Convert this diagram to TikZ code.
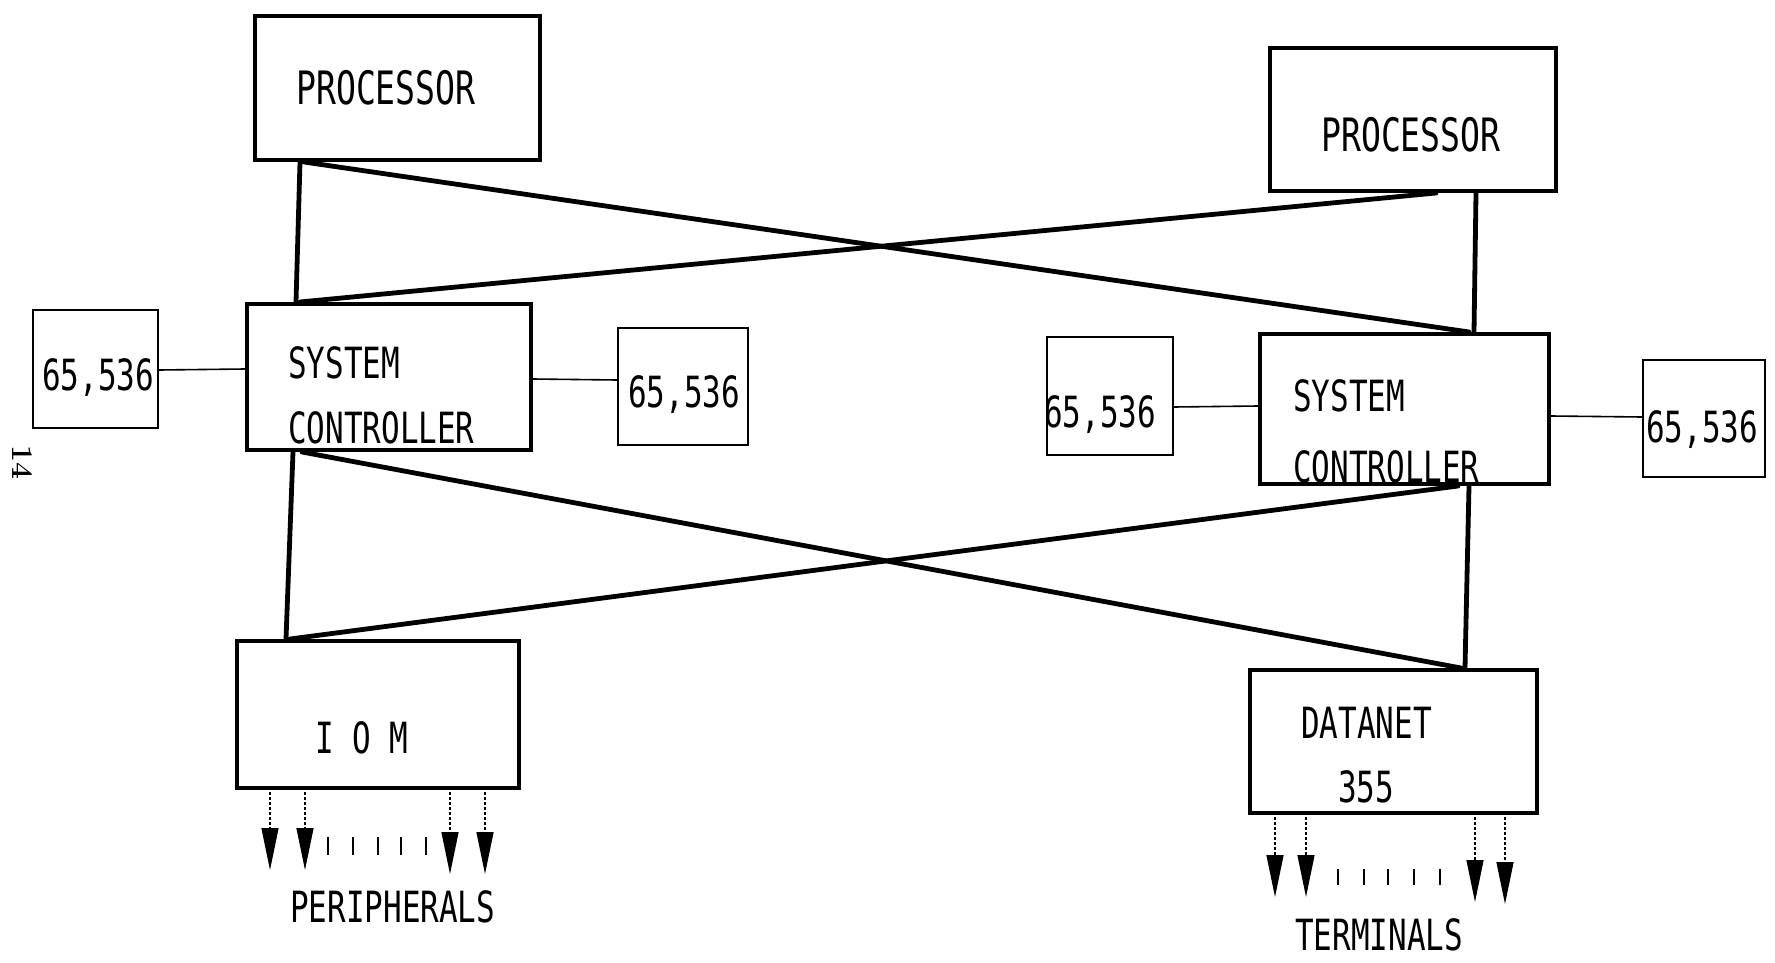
\documentclass[tikz,border=0pt]{standalone}
\usepackage{fontspec}
\usetikzlibrary{arrows.meta,calc}
\newfontfamily\lettering{DejaVu Sans Mono}[FakeStretch=0.72]
\begin{document}
\begin{tikzpicture}[x=1pt,y=-1pt,
  bigbox/.style={draw=black,line width=4pt,rectangle,inner sep=0pt,minimum width=#1},
  membox/.style={draw=black,line width=2pt,rectangle,inner sep=0pt},
  txt/.style={anchor=base west,inner sep=0pt,font=\lettering\fontsize{43}{48}\selectfont},
  bigtxt/.style={anchor=base west,inner sep=0pt,font=\lettering\fontsize{46}{50}\selectfont},
  thick link/.style={line width=4.8pt,line cap=round},
  thin link/.style={line width=1.6pt},
  outarrow/.style={line width=1.3pt,densely dashed,-{Triangle[width=17pt,length=42pt]}},
  tick/.style={line width=2.8pt}]
\useasboundingbox (0,0) rectangle (1775,963);
\fill[white] (0,0) rectangle (1775,963);
% boxes
\node[bigbox=285pt,minimum height=144pt] (p1) at (397.5,88) {};
\node[bigbox=286pt,minimum height=143pt] (p2) at (1413,119.5) {};
\node[bigbox=284pt,minimum height=146pt] (sc1) at (389,377) {};
\node[bigbox=289pt,minimum height=150pt] (sc2) at (1404.5,409) {};
\node[bigbox=282pt,minimum height=147pt] (iom) at (378,714.5) {};
\node[bigbox=287pt,minimum height=143pt] (dn) at (1393.5,741.5) {};
\node[membox,minimum width=125pt,minimum height=118pt] (m1) at (95.5,369) {};
\node[membox,minimum width=130pt,minimum height=117pt] (m2) at (683,386.5) {};
\node[membox,minimum width=126pt,minimum height=118pt] (m3) at (1110,396) {};
\node[membox,minimum width=122pt,minimum height=117pt] (m4) at (1704,418.5) {};
% texts
\node[bigtxt] (t1) at (296,105) {PROCESSOR};
\node[bigtxt] (t2) at (1321,152) {PROCESSOR};
\node[txt] (t3) at (288,378) {SYSTEM};
\node[txt] (t4) at (288,443) {CONTROLLER};
\node[txt] (t5) at (1293,411) {SYSTEM};
\node[txt] (t6) at (1293,482) {CONTROLLER};
\node[txt] (t7) at (315,753) {I O M};
\node[txt] (t8) at (1301,738) {DATANET};
\node[txt] (t9) at (1338,802) {355};
\node[txt] (t10) at (42,390) {65,536};
\node[txt] (t11) at (628,407) {65,536};
\node[txt] (t12) at (1044,427) {65,536};
\node[txt] (t13) at (1646,442) {65,536};
\node[txt] (t14) at (290,922) {PERIPHERALS};
\node[txt] (t15) at (1295,950) {TERMINALS};
\node[rotate=-90,inner sep=0pt,font=\bfseries\fontsize{30}{32}\selectfont] (pg) at (22,462) {14};
% thick links
\draw[thick link] ($(p1.south west)+(47,0)$) -- ($(sc1.north west)+(51,0)$);
\draw[thick link] ($(p1.south west)+(51,0)$) -- ($(sc2.north west)+(211,0)$);
\draw[thick link] ($(p2.south west)+(168,0)$) -- ($(sc1.north west)+(55,0)$);
\draw[thick link] ($(p2.south west)+(208,0)$) -- ($(sc2.north west)+(216,0)$);
\draw[thick link] ($(sc1.south west)+(48,0)$) -- ($(iom.north west)+(51,0)$);
\draw[thick link] ($(sc1.south west)+(57,0)$) -- ($(dn.north west)+(213,0)$);
\draw[thick link] ($(sc2.south west)+(200,0)$) -- ($(iom.north west)+(55,0)$);
\draw[thick link] ($(sc2.south west)+(211,0)$) -- ($(dn.north west)+(217,0)$);
% memory links
\draw[thin link] ($(m1.north east)+(0,61)$) -- ($(sc1.north west)+(0,67)$);
\draw[thin link] ($(sc1.north east)+(0,77)$) -- ($(m2.north west)+(0,53)$);
\draw[thin link] ($(m3.north east)+(0,71)$) -- ($(sc2.north west)+(0,74)$);
\draw[thin link] ($(sc2.north east)+(0,84)$) -- ($(m4.north west)+(0,58)$);
% peripherals arrows
\coordinate (pa1) at ($(iom.south west)+(35,80)$);
\coordinate (pa2) at ($(iom.south west)+(70,80)$);
\coordinate (pa3) at ($(iom.south west)+(215,84)$);
\coordinate (pa4) at ($(iom.south west)+(250,84)$);
\draw[outarrow] ($(iom.south west)+(35,2)$) -- (pa1);
\draw[outarrow] ($(iom.south west)+(70,2)$) -- (pa2);
\draw[outarrow] ($(iom.south west)+(215,2)$) -- (pa3);
\draw[outarrow] ($(iom.south west)+(250,2)$) -- (pa4);
\foreach \dx in {93,118,143,166,191}
  \draw[tick] ($(iom.south west)+(\dx,47)$) -- ++(0,18);
% terminals arrows
\coordinate (ta1) at ($(dn.south west)+(27,82)$);
\coordinate (ta2) at ($(dn.south west)+(58,82)$);
\coordinate (ta3) at ($(dn.south west)+(227,87)$);
\coordinate (ta4) at ($(dn.south west)+(257,89)$);
\draw[outarrow] ($(dn.south west)+(27,2)$) -- (ta1);
\draw[outarrow] ($(dn.south west)+(58,2)$) -- (ta2);
\draw[outarrow] ($(dn.south west)+(227,2)$) -- (ta3);
\draw[outarrow] ($(dn.south west)+(257,2)$) -- (ta4);
\foreach \dx in {90,116,140,166,192}
  \draw[tick] ($(dn.south west)+(\dx,54)$) -- ++(0,16);
\end{tikzpicture}
\end{document}
